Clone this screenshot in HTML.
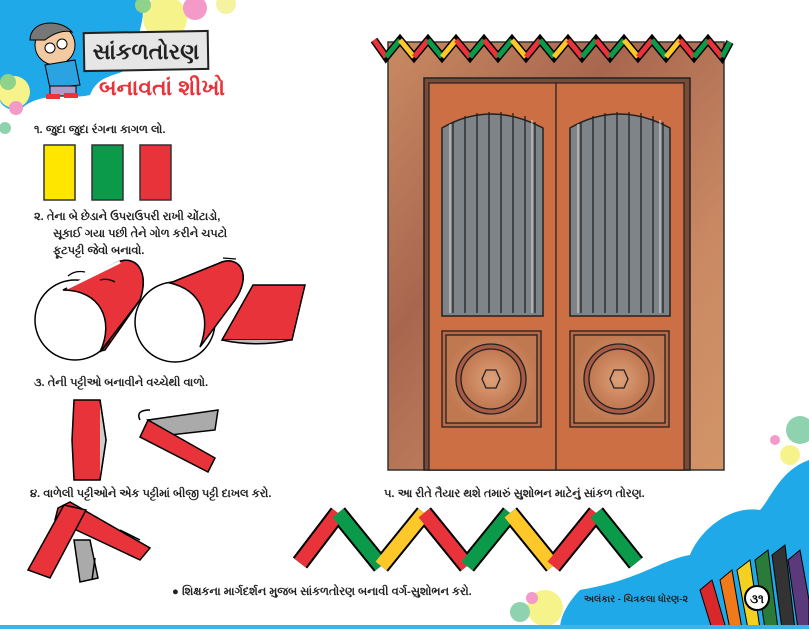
<!DOCTYPE html>
<html><head><meta charset="utf-8"><style>
html,body{margin:0;padding:0;background:#fff}
svg{display:block}
text{font-family:"Liberation Sans","Noto Sans CJK JP",sans-serif}
</style></head><body>
<svg width="809" height="629" viewBox="0 0 809 629" xmlns="http://www.w3.org/2000/svg">
<defs>
<linearGradient id="wall" x1="0" y1="0" x2="1" y2="1">
<stop offset="0" stop-color="#c98a62"/><stop offset="0.35" stop-color="#a8664f"/><stop offset="0.7" stop-color="#c98862"/><stop offset="1" stop-color="#d29468"/>
</linearGradient>
<radialGradient id="pan"><stop offset="0" stop-color="#dea07a"/><stop offset="1" stop-color="#c07850"/></radialGradient>
</defs>
<path d="M0 0 H140 C150 20 130 40 140 60 C120 80 100 70 90 95 C70 100 40 90 20 110 C10 112 0 105 0 100Z" fill="#1fa9e8"/>
<circle cx="165" cy="18" r="22" fill="#f6f38a"/>
<circle cx="195" cy="8" r="12" fill="#f49ac8"/>
<circle cx="143" cy="5" r="8" fill="#8fd28a"/>
<circle cx="226" cy="4" r="10" fill="#f6f3a0"/>
<circle cx="14" cy="92" r="16" fill="#f6f38a"/>
<circle cx="8" cy="82" r="8" fill="#8fd28a"/>
<circle cx="16" cy="108" r="7" fill="#f49ac8"/>
<circle cx="5" cy="128" r="6" fill="#8fd2b0"/>
<ellipse cx="55" cy="45" rx="20" ry="20" fill="#f2c9a0" stroke="#000"/>
<path d="M30 40 C30 20 60 18 72 32 C65 30 55 32 45 40 Z" fill="#777" stroke="#000"/>
<circle cx="50" cy="48" r="5" fill="#fff" stroke="#000"/><circle cx="62" cy="44" r="5" fill="#fff" stroke="#000"/>
<path d="M45 65 L75 60 L80 85 L50 88 Z" fill="#2aa3e0" stroke="#000"/>
<rect x="50" y="86" width="26" height="10" fill="#a89ec8" stroke="#000"/>
<rect x="46" y="94" width="14" height="5" fill="#e33" /><rect x="64" y="93" width="14" height="5" fill="#e33"/>
<rect x="84" y="32" width="124" height="38" fill="#e6e6e6" stroke="#222" stroke-width="2" transform="rotate(-1 146 51)"/>
<text x="146" y="59" font-size="22" font-weight="bold" text-anchor="middle" fill="#222">સાંકળતોરણ</text>
<text x="162" y="95" font-size="22" font-weight="bold" text-anchor="middle" fill="#e8333a">બનાવતાં શીખો</text>
<g font-size="11.3" font-weight="bold" fill="#222">
<text x="34" y="133">૧.  જુદા જુદા રંગના કાગળ લો.</text>
<text x="34" y="220">૨.  તેના બે છેડાને ઉપરાઉપરી રાખી ચોંટાડો,</text>
<text x="53" y="237">સૂકાઈ ગયા પછી તેને ગોળ કરીને ચપટો</text>
<text x="53" y="254">ફૂટપટ્ટી જેવો બનાવો.</text>
<text x="34" y="386">૩.  તેની પટ્ટીઓ બનાવીને વચ્ચેથી વાળો.</text>
<text x="30" y="497">૪.  વાળેલી પટ્ટીઓને એક પટ્ટીમાં બીજી પટ્ટી દાખલ કરો.</text>
<text x="384" y="497">૫.  આ રીતે તૈયાર થશે તમારું સુશોભન માટેનું સાંકળ તોરણ.</text>
<text x="172" y="595">● શિક્ષકના માર્ગદર્શન મુજબ સાંકળતોરણ બનાવી વર્ગ-સુશોભન કરો.</text>
</g>
<rect x="44" y="145" width="31" height="55" fill="#ffe600" stroke="#333" stroke-width="1.5"/>
<rect x="92" y="145" width="31" height="55" fill="#0a9a4a" stroke="#333" stroke-width="1.5"/>
<rect x="140" y="145" width="31" height="55" fill="#e8333a" stroke="#333" stroke-width="1.5"/>
<g stroke="#000" stroke-width="1.5">
<path d="M63 290 L118 262 C135 255 150 270 140 300 L105 350 L85 355 Z" fill="#e8333a"/>
<circle cx="75" cy="320" r="40" fill="#fff"/>
<path d="M63 290 L118 262 C135 255 150 270 140 300 L100 352 C115 320 100 290 63 290Z" fill="#e8333a"/>
<path d="M67 288 L120 262" stroke="#fff" stroke-width="3"/>
<path d="M170 285 L222 262 C240 256 252 275 235 300 L200 345 C210 310 195 285 170 285Z" fill="#e8333a"/>
<circle cx="175" cy="322" r="40" fill="#fff"/>
<path d="M170 283 L222 262 C240 256 252 275 235 300 L200 347 C212 315 200 290 170 283Z" fill="#e8333a"/>
<path d="M253 285 L305 285 L292 340 L222 340 Z" fill="#e8333a"/>
<path d="M222 340 C245 345 270 345 290 340" fill="#bbb"/>
</g>
<g stroke="#000" stroke-width="1.3" fill="none">
<path d="M68 276 Q75 270 85 272"/><path d="M100 280 Q108 278 115 282"/><path d="M223 258 L236 259"/>
</g>
<g stroke="#000" stroke-width="1.5">
<path d="M74 400 L100 400 L106 440 L100 480 L74 480 L72 440 Z" fill="#e8333a"/>
<path d="M100 400 L106 440 L100 480" fill="#ccc"/>
<path d="M148 420 L218 410 L215 430 L170 435 Z" fill="#aaa"/>
<path d="M148 420 L215 458 L208 472 L140 437 Z" fill="#e8333a"/>
<path d="M140 420 Q135 410 150 410" fill="none"/>
</g>
<g stroke="#000" stroke-width="1.5">
<path d="M74 540 L90 540 L98 578 L80 582 Z" fill="#aaa"/>
<path d="M58 508 L70 502 L150 548 L140 560 L55 520 Z" fill="#e8333a"/>
<path d="M64 505 L86 510 L50 578 L28 570 Z" fill="#e8333a"/>
<path d="M120 530 L140 540" fill="none"/><path d="M95 558 L92 580" fill="none"/>
</g>
<!-- bottom zigzag -->
<g fill="none" stroke-linecap="butt">
<g stroke="#000" stroke-width="18">
<path d="M300 563 L338 513"/><path d="M338 513 L381 566"/><path d="M381 566 L424 513"/><path d="M424 513 L467 566"/><path d="M467 566 L510 513"/><path d="M510 513 L553 566"/><path d="M553 566 L596 513"/><path d="M596 513 L636 563"/>
</g>
<path d="M300 563 L338 513" stroke="#e8333a" stroke-width="14"/>
<path d="M338 513 L381 566" stroke="#0a9a4a" stroke-width="14"/>
<path d="M381 566 L424 513" stroke="#ffc82a" stroke-width="14"/>
<path d="M424 513 L467 566" stroke="#e8333a" stroke-width="14"/>
<path d="M467 566 L510 513" stroke="#0a9a4a" stroke-width="14"/>
<path d="M510 513 L553 566" stroke="#ffc82a" stroke-width="14"/>
<path d="M553 566 L596 513" stroke="#e8333a" stroke-width="14"/>
<path d="M596 513 L636 563" stroke="#0a9a4a" stroke-width="14"/>
</g>
<rect x="388" y="42" width="336" height="428" fill="url(#wall)" stroke="#333" stroke-width="1.5"/>
<rect x="424" y="78" width="266" height="392" fill="#7a4a3a" stroke="#222" stroke-width="1.5"/>
<rect x="429" y="83" width="127" height="387" fill="#cc6f44" stroke="#222" stroke-width="1.2"/>
<rect x="556" y="83" width="128" height="387" fill="#cc6f44" stroke="#222" stroke-width="1.2"/>
<g stroke="#222" stroke-width="1.5">
<path d="M442 128 Q490 100 543 128 L543 316 L442 316 Z" fill="#7e8488"/>
<path d="M570 128 Q618 100 670 128 L670 316 L570 316 Z" fill="#7e8488"/>
</g>
<g stroke="#222" stroke-width="1.3">
<path d="M453 122 V313 M465 116 V313 M477 113 V313 M489 112 V313 M501 112 V313 M513 113 V313 M525 116 V313 M535 122 V313"/>
<path d="M581 122 V313 M593 116 V313 M605 113 V313 M617 112 V313 M629 112 V313 M641 113 V313 M653 116 V313 M663 122 V313"/>
</g>
<g stroke="#ddd" stroke-width="1"><path d="M450 124 V313 M532 120 V313 M578 124 V313 M660 120 V313"/></g>
<g stroke="#222" stroke-width="1.3">
<rect x="442" y="331" width="99" height="96" fill="#b86a48"/>
<rect x="446" y="335" width="91" height="88" fill="url(#pan)"/>
<circle cx="491" cy="379" r="35" fill="#a85a44"/><circle cx="491" cy="379" r="30" fill="url(#pan)"/>
<polygon points="486,370 496,370 500,379 496,388 486,388 482,379" fill="none"/>
<rect x="570" y="331" width="99" height="96" fill="#b86a48"/>
<rect x="574" y="335" width="91" height="88" fill="url(#pan)"/>
<circle cx="619" cy="379" r="35" fill="#a85a44"/><circle cx="619" cy="379" r="30" fill="url(#pan)"/>
<polygon points="614,370 624,370 628,379 624,388 614,388 610,379" fill="none"/>
</g>
<g stroke-linecap="butt">
<g stroke="#000" stroke-width="8" fill="none"><path d="M374 40 L386 57 L400 40 L414 57 L428 40 L442 57 L456 40 L470 57 L484 40 L498 57 L512 40 L526 57 L540 40 L554 57 L568 40 L582 57 L596 40 L610 57 L624 40 L638 57 L652 40 L666 57 L680 40 L694 57 L708 40 L722 57 L730 42"/></g>
<g stroke-width="5" fill="none">
<path d="M374 40 L386 57" stroke="#e8333a"/><path d="M386 57 L400 40" stroke="#0a9a4a"/><path d="M400 40 L414 57" stroke="#ffc82a"/><path d="M414 57 L428 40" stroke="#e8333a"/>
<path d="M428 40 L442 57" stroke="#0a9a4a"/><path d="M442 57 L456 40" stroke="#ffc82a"/><path d="M456 40 L470 57" stroke="#e8333a"/><path d="M470 57 L484 40" stroke="#0a9a4a"/>
<path d="M484 40 L498 57" stroke="#e8333a"/><path d="M498 57 L512 40" stroke="#0a9a4a"/><path d="M512 40 L526 57" stroke="#ffc82a"/><path d="M526 57 L540 40" stroke="#e8333a"/>
<path d="M540 40 L554 57" stroke="#0a9a4a"/><path d="M554 57 L568 40" stroke="#ffc82a"/><path d="M568 40 L582 57" stroke="#e8333a"/><path d="M582 57 L596 40" stroke="#0a9a4a"/>
<path d="M596 40 L610 57" stroke="#e8333a"/><path d="M610 57 L624 40" stroke="#0a9a4a"/><path d="M624 40 L638 57" stroke="#ffc82a"/><path d="M638 57 L652 40" stroke="#e8333a"/>
<path d="M652 40 L666 57" stroke="#0a9a4a"/><path d="M666 57 L680 40" stroke="#ffc82a"/><path d="M680 40 L694 57" stroke="#e8333a"/><path d="M694 57 L708 40" stroke="#0a9a4a"/>
<path d="M708 40 L722 57" stroke="#e8333a"/><path d="M722 57 L730 42" stroke="#0a9a4a"/>
</g></g>
<circle cx="800" cy="430" r="14" fill="#8fd2b0"/><circle cx="790" cy="455" r="10" fill="#f6f38a"/>
<circle cx="775" cy="440" r="5" fill="#f49ac8"/>
<path d="M809 460 C780 470 770 500 760 510 C730 505 700 530 690 555 C660 560 640 580 580 590 C570 600 560 615 560 629 H809 Z" fill="#1fa9e8"/>
<circle cx="545" cy="608" r="18" fill="#f6f38a"/><circle cx="520" cy="612" r="10" fill="#8fd2b0"/><circle cx="532" cy="598" r="6" fill="#f49ac8"/>
<text x="584" y="602" font-size="9.5" font-weight="bold" fill="#222">અલંકાર - ચિત્રકલા ધોરણ-૨</text>
<g stroke="#000" stroke-width="1">
<path d="M700 590 L712 580 L725 625 L712 629Z" fill="#d8282c"/>
<path d="M720 580 L732 570 L742 629 L730 629Z" fill="#f07a1a"/>
<path d="M737 570 L750 560 L760 629 L748 629Z" fill="#f4d020"/>
<path d="M755 560 L768 550 L778 629 L765 629Z" fill="#2a7a3a"/>
<path d="M772 555 L785 545 L795 629 L782 629Z" fill="#333"/>
<path d="M788 560 L800 550 L809 600 L809 629 L798 629Z" fill="#5a3a7a"/>
</g>
<circle cx="757" cy="598" r="12" fill="#fff" stroke="#000" stroke-width="2"/>
<text x="757" y="603" font-size="12" font-weight="bold" text-anchor="middle" fill="#000">૩૧</text>
<rect x="0" y="625" width="809" height="4" fill="#3cb4e6"/>
</svg>
</body></html>
